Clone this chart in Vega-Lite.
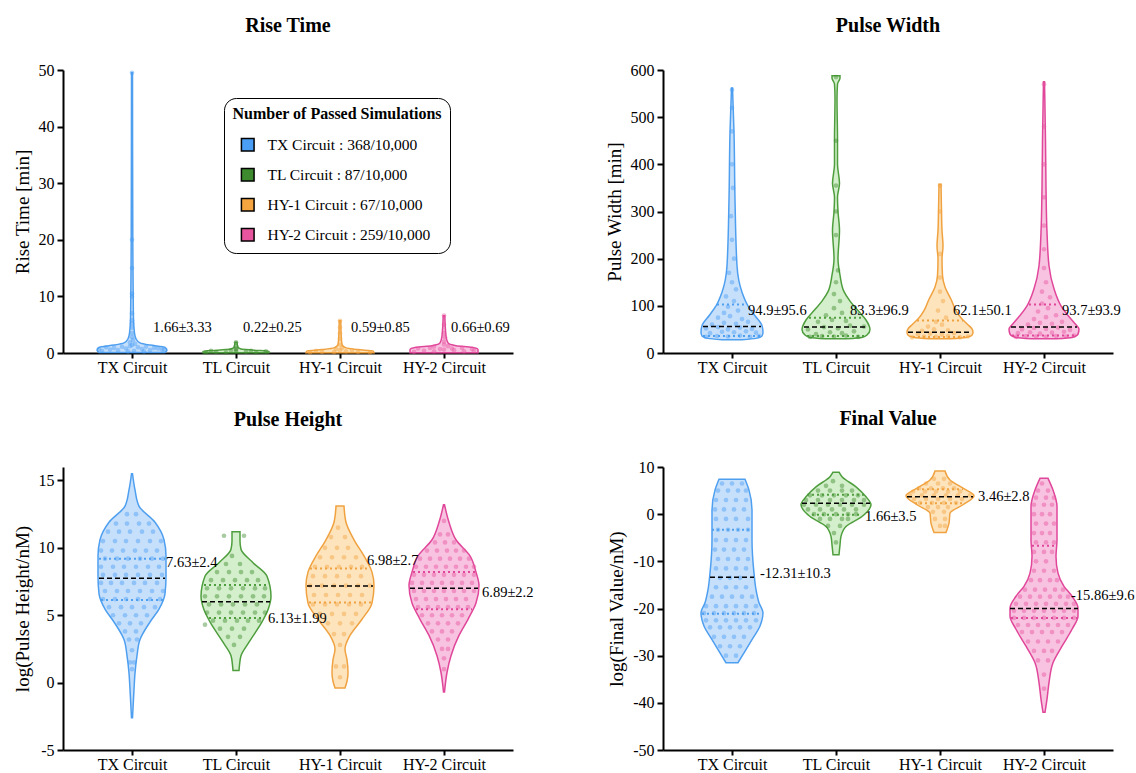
{
"$schema":"https://vega.github.io/schema/vega-lite/v6.json",
"background":"white",
"padding":{"left":13,"top":16,"right":5,"bottom":5},
"config":{"font":"Liberation Serif","view":{"stroke":null},
"axis":{"domainColor":"black","domainWidth":2,"tickColor":"black","tickWidth":2,"tickSize":6,"labelFont":"Liberation Serif","labelFontSize":16,"labelColor":"black","titleFont":"Liberation Serif","titleFontSize":19,"titleFontWeight":"normal","titleColor":"black","grid":false,"labelPadding":3,"titlePadding":6},
"axisX":{"labelPadding":1,"tickSize":5},
"title":{"font":"Liberation Serif","fontSize":20,"fontWeight":"bold","color":"black","offset":26,"anchor":"middle"}},
"datasets":{
"vio":[
{"p":"RT","g":"TX","y":0.1,"w":33},{"p":"RT","g":"TX","y":0.5,"w":35},{"p":"RT","g":"TX","y":1.0,"w":33},{"p":"RT","g":"TX","y":1.4,"w":18},{"p":"RT","g":"TX","y":1.8,"w":8},{"p":"RT","g":"TX","y":2.5,"w":4},{"p":"RT","g":"TX","y":3.5,"w":2.5},{"p":"RT","g":"TX","y":6,"w":1.5},{"p":"RT","g":"TX","y":10,"w":1.2},{"p":"RT","g":"TX","y":20,"w":0.8},{"p":"RT","g":"TX","y":49.5,"w":0.5},
{"p":"RT","g":"TL","y":0.05,"w":33},{"p":"RT","g":"TL","y":0.3,"w":33},{"p":"RT","g":"TL","y":0.5,"w":18},{"p":"RT","g":"TL","y":0.7,"w":5},{"p":"RT","g":"TL","y":1.0,"w":2},{"p":"RT","g":"TL","y":1.9,"w":1},
{"p":"RT","g":"H1","y":0.05,"w":34},{"p":"RT","g":"H1","y":0.35,"w":33},{"p":"RT","g":"H1","y":0.6,"w":18},{"p":"RT","g":"H1","y":0.9,"w":6},{"p":"RT","g":"H1","y":1.5,"w":2},{"p":"RT","g":"H1","y":3,"w":1.2},{"p":"RT","g":"H1","y":5.7,"w":0.8},
{"p":"RT","g":"H2","y":0.05,"w":34},{"p":"RT","g":"H2","y":0.6,"w":34},{"p":"RT","g":"H2","y":1.0,"w":28},{"p":"RT","g":"H2","y":1.3,"w":12},{"p":"RT","g":"H2","y":1.8,"w":4},{"p":"RT","g":"H2","y":3,"w":2},{"p":"RT","g":"H2","y":6.6,"w":0.8},
{"p":"PW","g":"TX","y":28,"w":10},{"p":"PW","g":"TX","y":31,"w":24},{"p":"PW","g":"TX","y":36,"w":30},{"p":"PW","g":"TX","y":44,"w":31},{"p":"PW","g":"TX","y":58,"w":30},{"p":"PW","g":"TX","y":79,"w":23},{"p":"PW","g":"TX","y":100,"w":16},{"p":"PW","g":"TX","y":129,"w":10},{"p":"PW","g":"TX","y":185,"w":5},{"p":"PW","g":"TX","y":326,"w":3},{"p":"PW","g":"TX","y":468,"w":2},{"p":"PW","g":"TX","y":562,"w":0.5},
{"p":"PW","g":"TL","y":30,"w":10},{"p":"PW","g":"TL","y":33,"w":26},{"p":"PW","g":"TL","y":38,"w":31},{"p":"PW","g":"TL","y":50,"w":34},{"p":"PW","g":"TL","y":70,"w":30},{"p":"PW","g":"TL","y":90,"w":22},{"p":"PW","g":"TL","y":110,"w":14},{"p":"PW","g":"TL","y":130,"w":8},{"p":"PW","g":"TL","y":165,"w":4},{"p":"PW","g":"TL","y":200,"w":2},{"p":"PW","g":"TL","y":260,"w":3.5},{"p":"PW","g":"TL","y":300,"w":2},{"p":"PW","g":"TL","y":330,"w":1.5},{"p":"PW","g":"TL","y":360,"w":3.5},{"p":"PW","g":"TL","y":400,"w":1.5},{"p":"PW","g":"TL","y":450,"w":1.5},{"p":"PW","g":"TL","y":540,"w":1},{"p":"PW","g":"TL","y":570,"w":1.5},{"p":"PW","g":"TL","y":583,"w":4},{"p":"PW","g":"TL","y":588,"w":4},
{"p":"PW","g":"H1","y":30,"w":10},{"p":"PW","g":"H1","y":33,"w":26},{"p":"PW","g":"H1","y":38,"w":32},{"p":"PW","g":"H1","y":44,"w":33},{"p":"PW","g":"H1","y":51,"w":32},{"p":"PW","g":"H1","y":60,"w":28},{"p":"PW","g":"H1","y":72,"w":22},{"p":"PW","g":"H1","y":90,"w":16},{"p":"PW","g":"H1","y":114,"w":11},{"p":"PW","g":"H1","y":140,"w":5},{"p":"PW","g":"H1","y":164,"w":2.5},{"p":"PW","g":"H1","y":200,"w":2},{"p":"PW","g":"H1","y":227,"w":3},{"p":"PW","g":"H1","y":260,"w":2},{"p":"PW","g":"H1","y":300,"w":1.5},{"p":"PW","g":"H1","y":358,"w":1},
{"p":"PW","g":"H2","y":30,"w":12},{"p":"PW","g":"H2","y":33,"w":28},{"p":"PW","g":"H2","y":40,"w":34},{"p":"PW","g":"H2","y":51,"w":35},{"p":"PW","g":"H2","y":60,"w":32},{"p":"PW","g":"H2","y":72,"w":27},{"p":"PW","g":"H2","y":100,"w":17},{"p":"PW","g":"H2","y":136,"w":10},{"p":"PW","g":"H2","y":185,"w":5},{"p":"PW","g":"H2","y":256,"w":3},{"p":"PW","g":"H2","y":350,"w":2},{"p":"PW","g":"H2","y":450,"w":1.5},{"p":"PW","g":"H2","y":575,"w":0.5},
{"p":"PH","g":"TX","y":-2.6,"w":0.5},{"p":"PH","g":"TX","y":-0.5,"w":2},{"p":"PH","g":"TX","y":0.7,"w":3},{"p":"PH","g":"TX","y":2.0,"w":5},{"p":"PH","g":"TX","y":3.2,"w":8},{"p":"PH","g":"TX","y":4.5,"w":18},{"p":"PH","g":"TX","y":5.45,"w":27},{"p":"PH","g":"TX","y":6.6,"w":33},{"p":"PH","g":"TX","y":7.9,"w":34},{"p":"PH","g":"TX","y":9.4,"w":34},{"p":"PH","g":"TX","y":10.6,"w":32},{"p":"PH","g":"TX","y":11.9,"w":23},{"p":"PH","g":"TX","y":13.1,"w":7},{"p":"PH","g":"TX","y":14.3,"w":3},{"p":"PH","g":"TX","y":15.5,"w":0.5},
{"p":"PH","g":"TL","y":0.9,"w":3},{"p":"PH","g":"TL","y":1.3,"w":3.5},{"p":"PH","g":"TL","y":2.0,"w":5},{"p":"PH","g":"TL","y":3.0,"w":13},{"p":"PH","g":"TL","y":4.5,"w":26},{"p":"PH","g":"TL","y":5.4,"w":32},{"p":"PH","g":"TL","y":6.4,"w":35},{"p":"PH","g":"TL","y":7.9,"w":31},{"p":"PH","g":"TL","y":8.9,"w":17},{"p":"PH","g":"TL","y":9.9,"w":5},{"p":"PH","g":"TL","y":10.5,"w":4},{"p":"PH","g":"TL","y":11.2,"w":4},
{"p":"PH","g":"H1","y":-0.4,"w":5},{"p":"PH","g":"H1","y":0.1,"w":7},{"p":"PH","g":"H1","y":0.75,"w":8},{"p":"PH","g":"H1","y":1.7,"w":7},{"p":"PH","g":"H1","y":2.5,"w":5},{"p":"PH","g":"H1","y":3.5,"w":10},{"p":"PH","g":"H1","y":4.7,"w":22},{"p":"PH","g":"H1","y":5.9,"w":32},{"p":"PH","g":"H1","y":7.2,"w":34},{"p":"PH","g":"H1","y":8.2,"w":32},{"p":"PH","g":"H1","y":9.4,"w":24},{"p":"PH","g":"H1","y":10.6,"w":14},{"p":"PH","g":"H1","y":11.9,"w":6},{"p":"PH","g":"H1","y":13.1,"w":4},
{"p":"PH","g":"H2","y":-0.7,"w":0.5},{"p":"PH","g":"H2","y":0.75,"w":3},{"p":"PH","g":"H2","y":2.0,"w":7},{"p":"PH","g":"H2","y":3.5,"w":15},{"p":"PH","g":"H2","y":4.7,"w":24},{"p":"PH","g":"H2","y":5.9,"w":32},{"p":"PH","g":"H2","y":7.2,"w":35},{"p":"PH","g":"H2","y":8.2,"w":32},{"p":"PH","g":"H2","y":9.4,"w":26},{"p":"PH","g":"H2","y":10.6,"w":12},{"p":"PH","g":"H2","y":11.9,"w":5},{"p":"PH","g":"H2","y":13.2,"w":0.5},
{"p":"FV","g":"TX","y":-31.5,"w":6},{"p":"FV","g":"TX","y":-29.4,"w":12},{"p":"FV","g":"TX","y":-26.6,"w":20},{"p":"FV","g":"TX","y":-23.7,"w":28},{"p":"FV","g":"TX","y":-20.9,"w":31},{"p":"FV","g":"TX","y":-18.8,"w":27},{"p":"FV","g":"TX","y":-16,"w":24},{"p":"FV","g":"TX","y":-12.5,"w":22},{"p":"FV","g":"TX","y":-5.4,"w":20},{"p":"FV","g":"TX","y":0.9,"w":20},{"p":"FV","g":"TX","y":5.1,"w":17},{"p":"FV","g":"TX","y":7.4,"w":13},
{"p":"FV","g":"TL","y":-8.6,"w":3},{"p":"FV","g":"TL","y":-6.5,"w":4},{"p":"FV","g":"TL","y":-4.7,"w":5},{"p":"FV","g":"TL","y":-2.6,"w":10},{"p":"FV","g":"TL","y":-0.5,"w":26},{"p":"FV","g":"TL","y":2.0,"w":35},{"p":"FV","g":"TL","y":3.7,"w":30},{"p":"FV","g":"TL","y":5.8,"w":20},{"p":"FV","g":"TL","y":7.95,"w":6},{"p":"FV","g":"TL","y":8.9,"w":3},
{"p":"FV","g":"H1","y":-3.9,"w":6},{"p":"FV","g":"H1","y":-1.9,"w":9},{"p":"FV","g":"H1","y":0.2,"w":10},{"p":"FV","g":"H1","y":2.0,"w":23},{"p":"FV","g":"H1","y":3.9,"w":34},{"p":"FV","g":"H1","y":5.5,"w":23},{"p":"FV","g":"H1","y":7.25,"w":10},{"p":"FV","g":"H1","y":9.15,"w":5},
{"p":"FV","g":"H2","y":-42,"w":1},{"p":"FV","g":"H2","y":-39.2,"w":3},{"p":"FV","g":"H2","y":-35.7,"w":5},{"p":"FV","g":"H2","y":-31.5,"w":9},{"p":"FV","g":"H2","y":-28,"w":18},{"p":"FV","g":"H2","y":-24.4,"w":28},{"p":"FV","g":"H2","y":-21.6,"w":34},{"p":"FV","g":"H2","y":-19.9,"w":34},{"p":"FV","g":"H2","y":-17.4,"w":28},{"p":"FV","g":"H2","y":-15.3,"w":20},{"p":"FV","g":"H2","y":-12.5,"w":14},{"p":"FV","g":"H2","y":-8.95,"w":12},{"p":"FV","g":"H2","y":-5.4,"w":13},{"p":"FV","g":"H2","y":-1.9,"w":13},{"p":"FV","g":"H2","y":1.6,"w":13},{"p":"FV","g":"H2","y":5.1,"w":9},{"p":"FV","g":"H2","y":7.6,"w":4}
],
"qs":[
{"p":"PW","g":"TX","y":56,"w":29,"k":"m"},{"p":"PW","g":"TX","y":103,"w":15,"k":"q"},{"p":"PW","g":"TX","y":36,"w":29,"k":"q"},
{"p":"PW","g":"TL","y":55,"w":32,"k":"m"},{"p":"PW","g":"TL","y":75,"w":27,"k":"q"},{"p":"PW","g":"TL","y":36,"w":29,"k":"q"},
{"p":"PW","g":"H1","y":44,"w":32,"k":"m"},{"p":"PW","g":"H1","y":69,"w":23,"k":"q"},{"p":"PW","g":"H1","y":34,"w":27,"k":"q"},
{"p":"PW","g":"H2","y":55,"w":33,"k":"m"},{"p":"PW","g":"H2","y":103,"w":15,"k":"q"},{"p":"PW","g":"H2","y":37,"w":32,"k":"q"},
{"p":"PH","g":"TX","y":7.74,"w":33,"k":"m"},{"p":"PH","g":"TX","y":9.2,"w":33,"k":"q"},{"p":"PH","g":"TX","y":6.13,"w":31,"k":"q"},
{"p":"PH","g":"TL","y":6.0,"w":34,"k":"m"},{"p":"PH","g":"TL","y":7.25,"w":32,"k":"q"},{"p":"PH","g":"TL","y":4.8,"w":27,"k":"q"},
{"p":"PH","g":"H1","y":7.17,"w":33,"k":"m"},{"p":"PH","g":"H1","y":8.46,"w":30,"k":"q"},{"p":"PH","g":"H1","y":5.94,"w":31,"k":"q"},
{"p":"PH","g":"H2","y":7.0,"w":34,"k":"m"},{"p":"PH","g":"H2","y":8.2,"w":31,"k":"q"},{"p":"PH","g":"H2","y":5.44,"w":28,"k":"q"},
{"p":"FV","g":"TX","y":-13.4,"w":22,"k":"m"},{"p":"FV","g":"TX","y":-3.3,"w":20,"k":"q"},{"p":"FV","g":"TX","y":-21.1,"w":30,"k":"q"},
{"p":"FV","g":"TL","y":2.3,"w":34,"k":"m"},{"p":"FV","g":"TL","y":4.1,"w":29,"k":"q"},{"p":"FV","g":"TL","y":-0.1,"w":24,"k":"q"},
{"p":"FV","g":"H1","y":3.7,"w":33,"k":"m"},{"p":"FV","g":"H1","y":5.3,"w":23,"k":"q"},{"p":"FV","g":"H1","y":2.3,"w":25,"k":"q"},
{"p":"FV","g":"H2","y":-20,"w":34,"k":"m"},{"p":"FV","g":"H2","y":-6.7,"w":12,"k":"q"},{"p":"FV","g":"H2","y":-22,"w":33,"k":"q"}
],
"ann":[
{"p":"RT","a":90,"y":4.4,"t":"1.66±3.33"},{"p":"RT","a":180,"y":4.4,"t":"0.22±0.25"},{"p":"RT","a":288,"y":4.4,"t":"0.59±0.85"},{"p":"RT","a":388,"y":4.4,"t":"0.66±0.69"},
{"p":"PW","a":85,"y":89,"t":"94.9±95.6"},{"p":"PW","a":187,"y":89,"t":"83.3±96.9"},{"p":"PW","a":290,"y":89,"t":"62.1±50.1"},{"p":"PW","a":399,"y":89,"t":"93.7±93.9"},
{"p":"PH","a":103,"y":8.9,"t":"7.63±2.4"},{"p":"PH","a":205,"y":4.7,"t":"6.13±1.99"},{"p":"PH","a":304,"y":9.0,"t":"6.98±2.7"},{"p":"PH","a":419,"y":6.68,"t":"6.89±2.2"},
{"p":"FV","a":97,"y":-12.7,"t":"-12.31±10.3"},{"p":"FV","a":202,"y":-0.7,"t":"1.66±3.5"},{"p":"FV","a":315,"y":3.7,"t":"3.46±2.8"},{"p":"FV","a":408,"y":-17.4,"t":"-15.86±9.6"}
],
"pRT":[
{"g":"TX","y":0.4,"d":-30},{"g":"TX","y":0.6,"d":-22},{"g":"TX","y":0.5,"d":-14},{"g":"TX","y":0.8,"d":-6},{"g":"TX","y":0.4,"d":2},{"g":"TX","y":0.7,"d":10},{"g":"TX","y":0.5,"d":18},{"g":"TX","y":0.8,"d":26},{"g":"TX","y":0.6,"d":32},{"g":"TX","y":1.0,"d":-26},{"g":"TX","y":0.9,"d":-18},{"g":"TX","y":1.1,"d":-10},{"g":"TX","y":1.2,"d":-2},{"g":"TX","y":1.0,"d":6},{"g":"TX","y":1.1,"d":14},{"g":"TX","y":0.9,"d":22},{"g":"TX","y":0.3,"d":-4},{"g":"TX","y":0.3,"d":12},{"g":"TX","y":0.7,"d":-33},{"g":"TX","y":0.6,"d":30},{"g":"TX","y":1.4,"d":0},{"g":"TX","y":1.6,"d":3},{"g":"TX","y":1.9,"d":-2},{"g":"TX","y":2.3,"d":1},{"g":"TX","y":2.8,"d":0},{"g":"TX","y":3.5,"d":0},{"g":"TX","y":4.5,"d":0},{"g":"TX","y":5.2,"d":0},{"g":"TX","y":5.8,"d":0},{"g":"TX","y":7,"d":0},{"g":"TX","y":10,"d":0},{"g":"TX","y":10.5,"d":0},{"g":"TX","y":15,"d":0},{"g":"TX","y":20,"d":0},{"g":"TX","y":49.5,"d":0},
{"g":"TL","y":0.1,"d":-30},{"g":"TL","y":0.2,"d":-20},{"g":"TL","y":0.1,"d":-10},{"g":"TL","y":0.3,"d":0},{"g":"TL","y":0.2,"d":10},{"g":"TL","y":0.1,"d":20},{"g":"TL","y":0.3,"d":30},{"g":"TL","y":0.4,"d":-25},{"g":"TL","y":0.4,"d":15},{"g":"TL","y":0.5,"d":-5},{"g":"TL","y":0.6,"d":0},{"g":"TL","y":0.8,"d":0},{"g":"TL","y":1.2,"d":0},{"g":"TL","y":1.9,"d":0},
{"g":"H1","y":0.1,"d":-30},{"g":"H1","y":0.2,"d":-18},{"g":"H1","y":0.15,"d":-6},{"g":"H1","y":0.3,"d":6},{"g":"H1","y":0.2,"d":18},{"g":"H1","y":0.1,"d":30},{"g":"H1","y":0.4,"d":-24},{"g":"H1","y":0.45,"d":12},{"g":"H1","y":0.5,"d":0},{"g":"H1","y":0.7,"d":-4},{"g":"H1","y":0.9,"d":2},{"g":"H1","y":1.5,"d":0},{"g":"H1","y":2.5,"d":0},{"g":"H1","y":3.5,"d":0},{"g":"H1","y":4.5,"d":0},{"g":"H1","y":5.7,"d":0},
{"g":"H2","y":0.2,"d":-30},{"g":"H2","y":0.4,"d":-20},{"g":"H2","y":0.3,"d":-10},{"g":"H2","y":0.6,"d":0},{"g":"H2","y":0.5,"d":10},{"g":"H2","y":0.3,"d":20},{"g":"H2","y":0.4,"d":30},{"g":"H2","y":0.8,"d":-26},{"g":"H2","y":0.9,"d":-14},{"g":"H2","y":0.7,"d":-4},{"g":"H2","y":0.8,"d":8},{"g":"H2","y":0.9,"d":18},{"g":"H2","y":0.7,"d":28},{"g":"H2","y":1.1,"d":-10},{"g":"H2","y":1.2,"d":4},{"g":"H2","y":1.5,"d":0},{"g":"H2","y":2,"d":0},{"g":"H2","y":2.8,"d":1},{"g":"H2","y":3.5,"d":0},{"g":"H2","y":5,"d":0},{"g":"H2","y":6.6,"d":0}
],
"pPW":[
{"g":"TX","y":34,"d":-26},{"g":"TX","y":36,"d":-15},{"g":"TX","y":35,"d":-4},{"g":"TX","y":37,"d":8},{"g":"TX","y":34,"d":18},{"g":"TX","y":36,"d":27},{"g":"TX","y":42,"d":-22},{"g":"TX","y":45,"d":-10},{"g":"TX","y":44,"d":2},{"g":"TX","y":46,"d":14},{"g":"TX","y":43,"d":24},{"g":"TX","y":52,"d":-26},{"g":"TX","y":55,"d":-14},{"g":"TX","y":50,"d":-4},{"g":"TX","y":54,"d":8},{"g":"TX","y":51,"d":20},{"g":"TX","y":60,"d":-20},{"g":"TX","y":64,"d":-8},{"g":"TX","y":62,"d":4},{"g":"TX","y":66,"d":16},{"g":"TX","y":75,"d":-14},{"g":"TX","y":78,"d":-2},{"g":"TX","y":72,"d":10},{"g":"TX","y":85,"d":-8},{"g":"TX","y":90,"d":6},{"g":"TX","y":98,"d":-4},{"g":"TX","y":110,"d":2},{"g":"TX","y":120,"d":-6},{"g":"TX","y":135,"d":4},{"g":"TX","y":150,"d":0},{"g":"TX","y":170,"d":-3},{"g":"TX","y":200,"d":2},{"g":"TX","y":240,"d":0},{"g":"TX","y":290,"d":-1},{"g":"TX","y":350,"d":1},{"g":"TX","y":400,"d":0},{"g":"TX","y":470,"d":0},{"g":"TX","y":520,"d":0},{"g":"TX","y":558,"d":0},
{"g":"TL","y":34,"d":-26},{"g":"TL","y":36,"d":-14},{"g":"TL","y":35,"d":-2},{"g":"TL","y":37,"d":10},{"g":"TL","y":34,"d":22},{"g":"TL","y":40,"d":-20},{"g":"TL","y":44,"d":-6},{"g":"TL","y":42,"d":6},{"g":"TL","y":46,"d":18},{"g":"TL","y":50,"d":-28},{"g":"TL","y":55,"d":-12},{"g":"TL","y":52,"d":2},{"g":"TL","y":58,"d":14},{"g":"TL","y":56,"d":28},{"g":"TL","y":66,"d":-18},{"g":"TL","y":70,"d":-4},{"g":"TL","y":68,"d":10},{"g":"TL","y":80,"d":-10},{"g":"TL","y":85,"d":6},{"g":"TL","y":95,"d":-2},{"g":"TL","y":110,"d":4},{"g":"TL","y":125,"d":-2},{"g":"TL","y":150,"d":0},{"g":"TL","y":175,"d":2},{"g":"TL","y":250,"d":0},{"g":"TL","y":300,"d":0},{"g":"TL","y":355,"d":0},{"g":"TL","y":450,"d":0},{"g":"TL","y":585,"d":0},
{"g":"H1","y":33,"d":-28},{"g":"H1","y":35,"d":-16},{"g":"H1","y":34,"d":-4},{"g":"H1","y":36,"d":8},{"g":"H1","y":33,"d":20},{"g":"H1","y":35,"d":28},{"g":"H1","y":40,"d":-22},{"g":"H1","y":41,"d":-10},{"g":"H1","y":39,"d":2},{"g":"H1","y":42,"d":14},{"g":"H1","y":47,"d":-18},{"g":"H1","y":50,"d":-6},{"g":"H1","y":48,"d":8},{"g":"H1","y":56,"d":-12},{"g":"H1","y":60,"d":2},{"g":"H1","y":66,"d":-4},{"g":"H1","y":75,"d":6},{"g":"H1","y":90,"d":-2},{"g":"H1","y":110,"d":3},{"g":"H1","y":130,"d":0},{"g":"H1","y":160,"d":0},{"g":"H1","y":210,"d":0},{"g":"H1","y":300,"d":0},{"g":"H1","y":355,"d":0},
{"g":"H2","y":34,"d":-28},{"g":"H2","y":36,"d":-18},{"g":"H2","y":35,"d":-8},{"g":"H2","y":34,"d":2},{"g":"H2","y":36,"d":12},{"g":"H2","y":35,"d":22},{"g":"H2","y":37,"d":30},{"g":"H2","y":42,"d":-26},{"g":"H2","y":44,"d":-14},{"g":"H2","y":41,"d":-4},{"g":"H2","y":43,"d":8},{"g":"H2","y":45,"d":20},{"g":"H2","y":50,"d":-22},{"g":"H2","y":53,"d":-10},{"g":"H2","y":51,"d":2},{"g":"H2","y":54,"d":14},{"g":"H2","y":49,"d":26},{"g":"H2","y":60,"d":-16},{"g":"H2","y":64,"d":-4},{"g":"H2","y":62,"d":8},{"g":"H2","y":66,"d":18},{"g":"H2","y":72,"d":-10},{"g":"H2","y":76,"d":2},{"g":"H2","y":80,"d":12},{"g":"H2","y":88,"d":-6},{"g":"H2","y":95,"d":4},{"g":"H2","y":105,"d":-2},{"g":"H2","y":118,"d":6},{"g":"H2","y":130,"d":-2},{"g":"H2","y":150,"d":2},{"g":"H2","y":180,"d":0},{"g":"H2","y":220,"d":0},{"g":"H2","y":270,"d":0},{"g":"H2","y":330,"d":0},{"g":"H2","y":400,"d":0},{"g":"H2","y":480,"d":0},{"g":"H2","y":570,"d":0}
],
"pPH":[
{"g":"TX","y":12.5,"d":-5},{"g":"TX","y":12.5,"d":4},
{"g":"TX","y":11.8,"d":-16},{"g":"TX","y":11.8,"d":-5},{"g":"TX","y":11.8,"d":7},{"g":"TX","y":11.8,"d":17},
{"g":"TX","y":11.2,"d":-24},{"g":"TX","y":11.2,"d":-13},{"g":"TX","y":11.2,"d":-2},{"g":"TX","y":11.2,"d":10},{"g":"TX","y":11.2,"d":21},
{"g":"TX","y":10.5,"d":-29},{"g":"TX","y":10.5,"d":-17},{"g":"TX","y":10.5,"d":-6},{"g":"TX","y":10.5,"d":6},{"g":"TX","y":10.5,"d":18},{"g":"TX","y":10.5,"d":29},
{"g":"TX","y":9.8,"d":-31},{"g":"TX","y":9.8,"d":-20},{"g":"TX","y":9.8,"d":-9},{"g":"TX","y":9.8,"d":3},{"g":"TX","y":9.8,"d":14},{"g":"TX","y":9.8,"d":25},
{"g":"TX","y":9.2,"d":-27},{"g":"TX","y":9.2,"d":-15},{"g":"TX","y":9.2,"d":-4},{"g":"TX","y":9.2,"d":8},{"g":"TX","y":9.2,"d":20},{"g":"TX","y":9.2,"d":31},
{"g":"TX","y":8.6,"d":-31},{"g":"TX","y":8.6,"d":-19},{"g":"TX","y":8.6,"d":-8},{"g":"TX","y":8.6,"d":4},{"g":"TX","y":8.6,"d":16},{"g":"TX","y":8.6,"d":27},
{"g":"TX","y":8.0,"d":-29},{"g":"TX","y":8.0,"d":-17},{"g":"TX","y":8.0,"d":-6},{"g":"TX","y":8.0,"d":6},{"g":"TX","y":8.0,"d":18},{"g":"TX","y":8.0,"d":30},
{"g":"TX","y":7.4,"d":-31},{"g":"TX","y":7.4,"d":-21},{"g":"TX","y":7.4,"d":-10},{"g":"TX","y":7.4,"d":2},{"g":"TX","y":7.4,"d":13},{"g":"TX","y":7.4,"d":25},
{"g":"TX","y":6.8,"d":-27},{"g":"TX","y":6.8,"d":-15},{"g":"TX","y":6.8,"d":-4},{"g":"TX","y":6.8,"d":8},{"g":"TX","y":6.8,"d":20},{"g":"TX","y":6.8,"d":31},
{"g":"TX","y":6.2,"d":-29},{"g":"TX","y":6.2,"d":-17},{"g":"TX","y":6.2,"d":-6},{"g":"TX","y":6.2,"d":6},{"g":"TX","y":6.2,"d":18},{"g":"TX","y":6.2,"d":28},
{"g":"TX","y":5.6,"d":-23},{"g":"TX","y":5.6,"d":-11},{"g":"TX","y":5.6,"d":0},{"g":"TX","y":5.6,"d":12},{"g":"TX","y":5.6,"d":23},
{"g":"TX","y":5.0,"d":-19},{"g":"TX","y":5.0,"d":-7},{"g":"TX","y":5.0,"d":4},{"g":"TX","y":5.0,"d":15},
{"g":"TX","y":4.4,"d":-13},{"g":"TX","y":4.4,"d":-2},{"g":"TX","y":4.4,"d":9},
{"g":"TX","y":3.8,"d":-7},{"g":"TX","y":3.8,"d":4},{"g":"TX","y":3.2,"d":-3},{"g":"TX","y":3.2,"d":5},{"g":"TX","y":2.4,"d":0},{"g":"TX","y":1.5,"d":-2},{"g":"TX","y":1.5,"d":2},{"g":"TX","y":1.0,"d":0},
{"g":"TL","y":10.9,"d":-12},{"g":"TL","y":10.9,"d":8},{"g":"TL","y":9.4,"d":-4},{"g":"TL","y":8.8,"d":-10},{"g":"TL","y":8.8,"d":4},
{"g":"TL","y":8.2,"d":-19},{"g":"TL","y":8.2,"d":-7},{"g":"TL","y":8.2,"d":5},{"g":"TL","y":8.2,"d":16},
{"g":"TL","y":7.6,"d":-25},{"g":"TL","y":7.6,"d":-13},{"g":"TL","y":7.6,"d":-1},{"g":"TL","y":7.6,"d":11},{"g":"TL","y":7.6,"d":22},
{"g":"TL","y":7.0,"d":-29},{"g":"TL","y":7.0,"d":-17},{"g":"TL","y":7.0,"d":-5},{"g":"TL","y":7.0,"d":7},{"g":"TL","y":7.0,"d":19},{"g":"TL","y":7.0,"d":29},
{"g":"TL","y":6.4,"d":-31},{"g":"TL","y":6.4,"d":-19},{"g":"TL","y":6.4,"d":-7},{"g":"TL","y":6.4,"d":5},{"g":"TL","y":6.4,"d":17},{"g":"TL","y":6.4,"d":28},
{"g":"TL","y":5.8,"d":-27},{"g":"TL","y":5.8,"d":-15},{"g":"TL","y":5.8,"d":-3},{"g":"TL","y":5.8,"d":9},{"g":"TL","y":5.8,"d":21},
{"g":"TL","y":5.2,"d":-29},{"g":"TL","y":5.2,"d":-17},{"g":"TL","y":5.2,"d":-5},{"g":"TL","y":5.2,"d":7},{"g":"TL","y":5.2,"d":19},{"g":"TL","y":5.2,"d":29},
{"g":"TL","y":4.6,"d":-23},{"g":"TL","y":4.6,"d":-11},{"g":"TL","y":4.6,"d":1},{"g":"TL","y":4.6,"d":12},{"g":"TL","y":4.6,"d":23},
{"g":"TL","y":4.0,"d":-16},{"g":"TL","y":4.0,"d":-4},{"g":"TL","y":4.0,"d":8},{"g":"TL","y":3.4,"d":-8},{"g":"TL","y":3.4,"d":4},{"g":"TL","y":2.8,"d":-2},{"g":"TL","y":4.3,"d":-31},
{"g":"H1","y":11.5,"d":-2},{"g":"H1","y":10.8,"d":-9},{"g":"H1","y":10.8,"d":5},
{"g":"H1","y":10.0,"d":-15},{"g":"H1","y":10.0,"d":-3},{"g":"H1","y":10.0,"d":8},
{"g":"H1","y":9.3,"d":-20},{"g":"H1","y":9.3,"d":-8},{"g":"H1","y":9.3,"d":4},{"g":"H1","y":9.3,"d":16},
{"g":"H1","y":8.6,"d":-25},{"g":"H1","y":8.6,"d":-13},{"g":"H1","y":8.6,"d":-1},{"g":"H1","y":8.6,"d":11},{"g":"H1","y":8.6,"d":22},
{"g":"H1","y":7.9,"d":-27},{"g":"H1","y":7.9,"d":-15},{"g":"H1","y":7.9,"d":-3},{"g":"H1","y":7.9,"d":9},{"g":"H1","y":7.9,"d":21},
{"g":"H1","y":7.2,"d":-30},{"g":"H1","y":7.2,"d":-18},{"g":"H1","y":7.2,"d":-6},{"g":"H1","y":7.2,"d":6},{"g":"H1","y":7.2,"d":18},{"g":"H1","y":7.2,"d":30},
{"g":"H1","y":6.5,"d":-26},{"g":"H1","y":6.5,"d":-14},{"g":"H1","y":6.5,"d":-2},{"g":"H1","y":6.5,"d":10},{"g":"H1","y":6.5,"d":22},
{"g":"H1","y":5.8,"d":-27},{"g":"H1","y":5.8,"d":-15},{"g":"H1","y":5.8,"d":-3},{"g":"H1","y":5.8,"d":9},{"g":"H1","y":5.8,"d":21},
{"g":"H1","y":5.1,"d":-20},{"g":"H1","y":5.1,"d":-8},{"g":"H1","y":5.1,"d":4},{"g":"H1","y":5.1,"d":16},
{"g":"H1","y":4.4,"d":-12},{"g":"H1","y":4.4,"d":0},{"g":"H1","y":4.4,"d":12},
{"g":"H1","y":3.6,"d":-6},{"g":"H1","y":3.6,"d":4},{"g":"H1","y":2.8,"d":0},{"g":"H1","y":1.2,"d":-4},{"g":"H1","y":1.2,"d":4},{"g":"H1","y":0.4,"d":0},
{"g":"H2","y":12,"d":0},{"g":"H2","y":11,"d":-4},{"g":"H2","y":11,"d":4},
{"g":"H2","y":10.4,"d":-9},{"g":"H2","y":10.4,"d":1},{"g":"H2","y":10.4,"d":10},
{"g":"H2","y":9.8,"d":-17},{"g":"H2","y":9.8,"d":-7},{"g":"H2","y":9.8,"d":3},{"g":"H2","y":9.8,"d":12},{"g":"H2","y":9.8,"d":20},
{"g":"H2","y":9.2,"d":-24},{"g":"H2","y":9.2,"d":-14},{"g":"H2","y":9.2,"d":-4},{"g":"H2","y":9.2,"d":6},{"g":"H2","y":9.2,"d":16},{"g":"H2","y":9.2,"d":25},
{"g":"H2","y":8.6,"d":-28},{"g":"H2","y":8.6,"d":-18},{"g":"H2","y":8.6,"d":-8},{"g":"H2","y":8.6,"d":2},{"g":"H2","y":8.6,"d":12},{"g":"H2","y":8.6,"d":22},{"g":"H2","y":8.6,"d":30},
{"g":"H2","y":8.0,"d":-30},{"g":"H2","y":8.0,"d":-20},{"g":"H2","y":8.0,"d":-10},{"g":"H2","y":8.0,"d":0},{"g":"H2","y":8.0,"d":10},{"g":"H2","y":8.0,"d":20},{"g":"H2","y":8.0,"d":30},
{"g":"H2","y":7.4,"d":-32},{"g":"H2","y":7.4,"d":-22},{"g":"H2","y":7.4,"d":-12},{"g":"H2","y":7.4,"d":-2},{"g":"H2","y":7.4,"d":8},{"g":"H2","y":7.4,"d":18},{"g":"H2","y":7.4,"d":28},
{"g":"H2","y":6.8,"d":-30},{"g":"H2","y":6.8,"d":-20},{"g":"H2","y":6.8,"d":-10},{"g":"H2","y":6.8,"d":0},{"g":"H2","y":6.8,"d":10},{"g":"H2","y":6.8,"d":20},{"g":"H2","y":6.8,"d":30},
{"g":"H2","y":6.2,"d":-28},{"g":"H2","y":6.2,"d":-18},{"g":"H2","y":6.2,"d":-8},{"g":"H2","y":6.2,"d":2},{"g":"H2","y":6.2,"d":12},{"g":"H2","y":6.2,"d":22},
{"g":"H2","y":5.6,"d":-26},{"g":"H2","y":5.6,"d":-16},{"g":"H2","y":5.6,"d":-6},{"g":"H2","y":5.6,"d":4},{"g":"H2","y":5.6,"d":14},{"g":"H2","y":5.6,"d":24},
{"g":"H2","y":5.0,"d":-22},{"g":"H2","y":5.0,"d":-12},{"g":"H2","y":5.0,"d":-2},{"g":"H2","y":5.0,"d":8},{"g":"H2","y":5.0,"d":18},
{"g":"H2","y":4.4,"d":-16},{"g":"H2","y":4.4,"d":-6},{"g":"H2","y":4.4,"d":4},{"g":"H2","y":4.4,"d":14},
{"g":"H2","y":3.8,"d":-12},{"g":"H2","y":3.8,"d":-2},{"g":"H2","y":3.8,"d":8},{"g":"H2","y":3.2,"d":-6},{"g":"H2","y":3.2,"d":4},{"g":"H2","y":2.5,"d":-2},{"g":"H2","y":2.5,"d":4},{"g":"H2","y":1.8,"d":0},{"g":"H2","y":1.0,"d":0}
],
"pFV":[
{"g":"TX","y":6.5,"d":-10},{"g":"TX","y":6.5,"d":0},{"g":"TX","y":6.5,"d":10},
{"g":"TX","y":5,"d":-14},{"g":"TX","y":5,"d":-4},{"g":"TX","y":5,"d":6},{"g":"TX","y":5,"d":14},
{"g":"TX","y":3,"d":-16},{"g":"TX","y":3,"d":-6},{"g":"TX","y":3,"d":4},{"g":"TX","y":3,"d":14},
{"g":"TX","y":1,"d":-17},{"g":"TX","y":1,"d":-8},{"g":"TX","y":1,"d":2},{"g":"TX","y":1,"d":12},
{"g":"TX","y":-1,"d":-16},{"g":"TX","y":-1,"d":-6},{"g":"TX","y":-1,"d":4},{"g":"TX","y":-1,"d":16},
{"g":"TX","y":-3.3,"d":-14},{"g":"TX","y":-3.3,"d":-4},{"g":"TX","y":-3.3,"d":6},{"g":"TX","y":-3.3,"d":16},
{"g":"TX","y":-5.5,"d":-16},{"g":"TX","y":-5.5,"d":-6},{"g":"TX","y":-5.5,"d":4},{"g":"TX","y":-5.5,"d":14},
{"g":"TX","y":-7.5,"d":-17},{"g":"TX","y":-7.5,"d":-8},{"g":"TX","y":-7.5,"d":2},{"g":"TX","y":-7.5,"d":12},
{"g":"TX","y":-9.5,"d":-14},{"g":"TX","y":-9.5,"d":-4},{"g":"TX","y":-9.5,"d":6},{"g":"TX","y":-9.5,"d":16},
{"g":"TX","y":-11.5,"d":-16},{"g":"TX","y":-11.5,"d":-6},{"g":"TX","y":-11.5,"d":4},{"g":"TX","y":-11.5,"d":14},
{"g":"TX","y":-13.5,"d":-12},{"g":"TX","y":-13.5,"d":-2},{"g":"TX","y":-13.5,"d":8},
{"g":"TX","y":-15.5,"d":-16},{"g":"TX","y":-15.5,"d":-6},{"g":"TX","y":-15.5,"d":4},{"g":"TX","y":-15.5,"d":14},
{"g":"TX","y":-17.5,"d":-20},{"g":"TX","y":-17.5,"d":-10},{"g":"TX","y":-17.5,"d":0},{"g":"TX","y":-17.5,"d":10},{"g":"TX","y":-17.5,"d":20},
{"g":"TX","y":-19.5,"d":-26},{"g":"TX","y":-19.5,"d":-16},{"g":"TX","y":-19.5,"d":-6},{"g":"TX","y":-19.5,"d":4},{"g":"TX","y":-19.5,"d":14},{"g":"TX","y":-19.5,"d":24},
{"g":"TX","y":-21,"d":-28},{"g":"TX","y":-21,"d":-18},{"g":"TX","y":-21,"d":-8},{"g":"TX","y":-21,"d":2},{"g":"TX","y":-21,"d":12},{"g":"TX","y":-21,"d":22},
{"g":"TX","y":-22.5,"d":-26},{"g":"TX","y":-22.5,"d":-16},{"g":"TX","y":-22.5,"d":-6},{"g":"TX","y":-22.5,"d":4},{"g":"TX","y":-22.5,"d":14},{"g":"TX","y":-22.5,"d":24},
{"g":"TX","y":-24,"d":-22},{"g":"TX","y":-24,"d":-12},{"g":"TX","y":-24,"d":-2},{"g":"TX","y":-24,"d":8},{"g":"TX","y":-24,"d":18},
{"g":"TX","y":-26,"d":-18},{"g":"TX","y":-26,"d":-8},{"g":"TX","y":-26,"d":2},{"g":"TX","y":-26,"d":12},
{"g":"TX","y":-28,"d":-12},{"g":"TX","y":-28,"d":-2},{"g":"TX","y":-28,"d":8},{"g":"TX","y":-30,"d":-6},{"g":"TX","y":-30,"d":4},
{"g":"TL","y":7,"d":-3},{"g":"TL","y":6,"d":-10},{"g":"TL","y":6,"d":6},
{"g":"TL","y":5,"d":-18},{"g":"TL","y":5,"d":-6},{"g":"TL","y":5,"d":6},{"g":"TL","y":5,"d":16},
{"g":"TL","y":4,"d":-26},{"g":"TL","y":4,"d":-14},{"g":"TL","y":4,"d":-2},{"g":"TL","y":4,"d":10},{"g":"TL","y":4,"d":22},
{"g":"TL","y":3,"d":-30},{"g":"TL","y":3,"d":-18},{"g":"TL","y":3,"d":-6},{"g":"TL","y":3,"d":6},{"g":"TL","y":3,"d":18},{"g":"TL","y":3,"d":28},
{"g":"TL","y":2,"d":-32},{"g":"TL","y":2,"d":-20},{"g":"TL","y":2,"d":-8},{"g":"TL","y":2,"d":4},{"g":"TL","y":2,"d":16},{"g":"TL","y":2,"d":28},
{"g":"TL","y":1,"d":-28},{"g":"TL","y":1,"d":-16},{"g":"TL","y":1,"d":-4},{"g":"TL","y":1,"d":8},{"g":"TL","y":1,"d":20},
{"g":"TL","y":0,"d":-22},{"g":"TL","y":0,"d":-12},{"g":"TL","y":0,"d":0},{"g":"TL","y":0,"d":12},{"g":"TL","y":0,"d":20},
{"g":"TL","y":-1,"d":-16},{"g":"TL","y":-1,"d":-6},{"g":"TL","y":-1,"d":6},{"g":"TL","y":-1,"d":12},
{"g":"TL","y":-2.5,"d":-8},{"g":"TL","y":-2.5,"d":4},{"g":"TL","y":-4,"d":-2},{"g":"TL","y":-6,"d":0},
{"g":"H1","y":7.5,"d":-6},{"g":"H1","y":7.5,"d":4},
{"g":"H1","y":6.5,"d":-14},{"g":"H1","y":6.5,"d":-2},{"g":"H1","y":6.5,"d":10},
{"g":"H1","y":5.5,"d":-21},{"g":"H1","y":5.5,"d":-9},{"g":"H1","y":5.5,"d":3},{"g":"H1","y":5.5,"d":14},
{"g":"H1","y":4.8,"d":-27},{"g":"H1","y":4.8,"d":-15},{"g":"H1","y":4.8,"d":-4},{"g":"H1","y":4.8,"d":8},{"g":"H1","y":4.8,"d":20},
{"g":"H1","y":4,"d":-30},{"g":"H1","y":4,"d":-18},{"g":"H1","y":4,"d":-6},{"g":"H1","y":4,"d":6},{"g":"H1","y":4,"d":18},{"g":"H1","y":4,"d":30},
{"g":"H1","y":3.2,"d":-26},{"g":"H1","y":3.2,"d":-14},{"g":"H1","y":3.2,"d":-2},{"g":"H1","y":3.2,"d":10},{"g":"H1","y":3.2,"d":22},
{"g":"H1","y":2.4,"d":-20},{"g":"H1","y":2.4,"d":-8},{"g":"H1","y":2.4,"d":4},{"g":"H1","y":2.4,"d":16},
{"g":"H1","y":1.5,"d":-12},{"g":"H1","y":1.5,"d":-2},{"g":"H1","y":1.5,"d":8},
{"g":"H1","y":0.5,"d":-7},{"g":"H1","y":0.5,"d":4},{"g":"H1","y":-1,"d":-5},{"g":"H1","y":-1,"d":5},{"g":"H1","y":-2.5,"d":0},{"g":"H1","y":-2.5,"d":5},
{"g":"H2","y":6.5,"d":-2},{"g":"H2","y":5,"d":-6},{"g":"H2","y":5,"d":4},
{"g":"H2","y":3.5,"d":-8},{"g":"H2","y":3.5,"d":2},{"g":"H2","y":3.5,"d":10},
{"g":"H2","y":2,"d":-10},{"g":"H2","y":2,"d":0},{"g":"H2","y":2,"d":8},
{"g":"H2","y":0,"d":-10},{"g":"H2","y":0,"d":-2},{"g":"H2","y":0,"d":6},
{"g":"H2","y":-2,"d":-8},{"g":"H2","y":-2,"d":2},{"g":"H2","y":-2,"d":10},
{"g":"H2","y":-4,"d":-10},{"g":"H2","y":-4,"d":-2},{"g":"H2","y":-4,"d":6},
{"g":"H2","y":-6,"d":-8},{"g":"H2","y":-6,"d":2},{"g":"H2","y":-6,"d":10},
{"g":"H2","y":-8,"d":-10},{"g":"H2","y":-8,"d":0},{"g":"H2","y":-8,"d":8},
{"g":"H2","y":-10,"d":-8},{"g":"H2","y":-10,"d":2},
{"g":"H2","y":-12,"d":-10},{"g":"H2","y":-12,"d":0},{"g":"H2","y":-12,"d":10},
{"g":"H2","y":-14,"d":-13},{"g":"H2","y":-14,"d":-4},{"g":"H2","y":-14,"d":6},{"g":"H2","y":-14,"d":13},
{"g":"H2","y":-16,"d":-19},{"g":"H2","y":-16,"d":-9},{"g":"H2","y":-16,"d":1},{"g":"H2","y":-16,"d":11},{"g":"H2","y":-16,"d":19},
{"g":"H2","y":-17.5,"d":-24},{"g":"H2","y":-17.5,"d":-14},{"g":"H2","y":-17.5,"d":-4},{"g":"H2","y":-17.5,"d":6},{"g":"H2","y":-17.5,"d":16},{"g":"H2","y":-17.5,"d":24},
{"g":"H2","y":-19,"d":-28},{"g":"H2","y":-19,"d":-18},{"g":"H2","y":-19,"d":-8},{"g":"H2","y":-19,"d":2},{"g":"H2","y":-19,"d":12},{"g":"H2","y":-19,"d":22},{"g":"H2","y":-19,"d":30},
{"g":"H2","y":-20.5,"d":-30},{"g":"H2","y":-20.5,"d":-20},{"g":"H2","y":-20.5,"d":-10},{"g":"H2","y":-20.5,"d":0},{"g":"H2","y":-20.5,"d":10},{"g":"H2","y":-20.5,"d":20},{"g":"H2","y":-20.5,"d":30},
{"g":"H2","y":-22,"d":-30},{"g":"H2","y":-22,"d":-20},{"g":"H2","y":-22,"d":-10},{"g":"H2","y":-22,"d":0},{"g":"H2","y":-22,"d":10},{"g":"H2","y":-22,"d":20},{"g":"H2","y":-22,"d":30},
{"g":"H2","y":-23.5,"d":-26},{"g":"H2","y":-23.5,"d":-16},{"g":"H2","y":-23.5,"d":-6},{"g":"H2","y":-23.5,"d":4},{"g":"H2","y":-23.5,"d":14},{"g":"H2","y":-23.5,"d":24},
{"g":"H2","y":-25,"d":-22},{"g":"H2","y":-25,"d":-12},{"g":"H2","y":-25,"d":-2},{"g":"H2","y":-25,"d":8},{"g":"H2","y":-25,"d":18},
{"g":"H2","y":-27,"d":-16},{"g":"H2","y":-27,"d":-6},{"g":"H2","y":-27,"d":4},{"g":"H2","y":-27,"d":14},
{"g":"H2","y":-29,"d":-10},{"g":"H2","y":-29,"d":0},{"g":"H2","y":-29,"d":8},{"g":"H2","y":-31,"d":-6},{"g":"H2","y":-31,"d":4},{"g":"H2","y":-34,"d":0},{"g":"H2","y":-37,"d":0}
]
},
"columns":2,
"bounds":"flush",
"spacing":{"row":114,"column":150},
"resolve":{"legend":{"color":"independent"}},
"concat":[
{"title":{"text":"Rise Time","offset":26},"width":450,"height":283,
"encoding":{"y":{"field":"y","type":"quantitative","scale":{"domain":[0,50],"nice":false,"zero":false},"axis":{"title":"Rise Time [min]","values":[0,10,20,30,40,50],"labelExpr":"''+datum.value"}}},
"layer":[
{"data":{"name":"vio"},"transform":[{"filter":"datum.p=='RT'"},{"calculate":"indexof(['TX','TL','H1','H2'],datum.g)*104+69","as":"c"},{"calculate":"datum.c-datum.w","as":"lo"},{"calculate":"datum.c+datum.w","as":"hi"}],
"mark":{"type":"area","orient":"horizontal","interpolate":"monotone","strokeWidth":1.5},
"encoding":{
"x":{"field":"lo","type":"quantitative","scale":{"domain":[0,450],"nice":false,"zero":false},"axis":{"title":null,"values":[69,173,277,381],"labelExpr":"datum.value==69?'TX Circuit':datum.value==173?'TL Circuit':datum.value==277?'HY-1 Circuit':'HY-2 Circuit'"}},
"x2":{"field":"hi"},"detail":{"field":"g"},
"fill":{"field":"g","type":"nominal","scale":{"domain":["TX","TL","H1","H2"],"range":["#c6e0fb","#d3efcb","#fde4bd","#f8c3e0"]},"legend":null},
"stroke":{"field":"g","type":"nominal","scale":{"domain":["TX","TL","H1","H2"],"range":["#4f9ff0","#4f9e3e","#f0a240","#e0479a"]},"legend":null}}},
{"data":{"name":"pRT"},"transform":[{"calculate":"indexof(['TX','TL','H1','H2'],datum.g)*104+69+datum.d","as":"px"}],
"mark":{"type":"circle","size":22,"opacity":0.45},
"encoding":{"x":{"field":"px","type":"quantitative","scale":{"domain":[0,450],"nice":false,"zero":false},"axis":{"title":null}},
"color":{"field":"g","type":"nominal","scale":{"domain":["TX","TL","H1","H2"],"range":["#4a9ef5","#3d8b2e","#f4a540","#e8559f"]},
"legend":{"title":"Number of Passed Simulations","orient":"none","legendX":161,"legendY":28,"symbolType":"square","symbolSize":160,"symbolStrokeColor":"black","symbolStrokeWidth":1.5,"symbolOpacity":1,"titleFont":"Liberation Serif","titleFontSize":16,"titleFontWeight":"bold","titleColor":"black","titleAnchor":"middle","titlePadding":15,"titleLimit":400,"labelLimit":400,"labelFont":"Liberation Serif","labelFontSize":15.5,"labelColor":"black","labelOffset":12,"rowPadding":10,"padding":8,"strokeColor":"black","cornerRadius":12,"fillColor":"white",
"labelExpr":"datum.label=='TX'?'TX Circuit : 368/10,000':datum.label=='TL'?'TL Circuit :  87/10,000':datum.label=='H1'?'HY-1 Circuit :  67/10,000':'HY-2 Circuit :  259/10,000'"}}}},
{"data":{"name":"ann"},"transform":[{"filter":"datum.p=='RT'"}],"mark":{"type":"text","align":"left","baseline":"middle","fontSize":14.5,"font":"Liberation Serif","color":"black"},
"encoding":{"x":{"field":"a","type":"quantitative","scale":{"domain":[0,450],"nice":false,"zero":false},"axis":{"title":null}},"text":{"field":"t"}}}
]},
{"title":{"text":"Pulse Width","offset":26},"width":450,"height":283,
"encoding":{"y":{"field":"y","type":"quantitative","scale":{"domain":[0,600],"nice":false,"zero":false},"axis":{"title":"Pulse Width [min]","values":[0,100,200,300,400,500,600],"labelExpr":"''+datum.value"}}},
"layer":[
{"data":{"name":"vio"},"transform":[{"filter":"datum.p=='PW'"},{"calculate":"indexof(['TX','TL','H1','H2'],datum.g)*104+69","as":"c"},{"calculate":"datum.c-datum.w","as":"lo"},{"calculate":"datum.c+datum.w","as":"hi"}],
"mark":{"type":"area","orient":"horizontal","interpolate":"monotone","strokeWidth":1.5},
"encoding":{
"x":{"field":"lo","type":"quantitative","scale":{"domain":[0,450],"nice":false,"zero":false},"axis":{"title":null,"values":[69,173,277,381],"labelExpr":"datum.value==69?'TX Circuit':datum.value==173?'TL Circuit':datum.value==277?'HY-1 Circuit':'HY-2 Circuit'"}},
"x2":{"field":"hi"},"detail":{"field":"g"},
"fill":{"field":"g","type":"nominal","scale":{"domain":["TX","TL","H1","H2"],"range":["#c6e0fb","#d3efcb","#fde4bd","#f8c3e0"]},"legend":null},
"stroke":{"field":"g","type":"nominal","scale":{"domain":["TX","TL","H1","H2"],"range":["#4f9ff0","#4f9e3e","#f0a240","#e0479a"]},"legend":null}}},
{"data":{"name":"pPW"},"transform":[{"calculate":"indexof(['TX','TL','H1','H2'],datum.g)*104+69+datum.d","as":"px"}],
"mark":{"type":"circle","size":22,"opacity":0.45},
"encoding":{"x":{"field":"px","type":"quantitative","scale":{"domain":[0,450],"nice":false,"zero":false},"axis":{"title":null}},
"color":{"field":"g","type":"nominal","scale":{"domain":["TX","TL","H1","H2"],"range":["#4a9ef5","#3d8b2e","#f4a540","#e8559f"]},"legend":null}}},
{"data":{"name":"qs"},"transform":[{"filter":"datum.p=='PW' && datum.k=='q'"},{"calculate":"indexof(['TX','TL','H1','H2'],datum.g)*104+69","as":"c"},{"calculate":"datum.c-datum.w","as":"lo"},{"calculate":"datum.c+datum.w","as":"hi"}],
"mark":{"type":"rule","strokeDash":[2,3],"strokeWidth":2},
"encoding":{"x":{"field":"lo","type":"quantitative","scale":{"domain":[0,450],"nice":false,"zero":false},"axis":{"title":null}},"x2":{"field":"hi"},
"stroke":{"field":"g","type":"nominal","scale":{"domain":["TX","TL","H1","H2"],"range":["#4f9ff0","#4f9e3e","#f0a240","#e0479a"]},"legend":null}}},
{"data":{"name":"qs"},"transform":[{"filter":"datum.p=='PW' && datum.k=='m'"},{"calculate":"indexof(['TX','TL','H1','H2'],datum.g)*104+69","as":"c"},{"calculate":"datum.c-datum.w","as":"lo"},{"calculate":"datum.c+datum.w","as":"hi"}],
"mark":{"type":"rule","strokeDash":[5,3],"strokeWidth":1.5,"color":"black"},
"encoding":{"x":{"field":"lo","type":"quantitative","scale":{"domain":[0,450],"nice":false,"zero":false},"axis":{"title":null}},"x2":{"field":"hi"}}},
{"data":{"name":"ann"},"transform":[{"filter":"datum.p=='PW'"}],"mark":{"type":"text","align":"left","baseline":"middle","fontSize":14.5,"font":"Liberation Serif","color":"black"},
"encoding":{"x":{"field":"a","type":"quantitative","scale":{"domain":[0,450],"nice":false,"zero":false},"axis":{"title":null}},"text":{"field":"t"}}}
]},
{"title":{"text":"Pulse Height","offset":37},"width":450,"height":283,
"encoding":{"y":{"field":"y","type":"quantitative","scale":{"domain":[-5,16],"nice":false,"zero":false},"axis":{"title":"log(Pulse Height/nM)","values":[-5,0,5,10,15],"labelExpr":"''+datum.value"}}},
"layer":[
{"data":{"name":"vio"},"transform":[{"filter":"datum.p=='PH'"},{"calculate":"indexof(['TX','TL','H1','H2'],datum.g)*104+69","as":"c"},{"calculate":"datum.c-datum.w","as":"lo"},{"calculate":"datum.c+datum.w","as":"hi"}],
"mark":{"type":"area","orient":"horizontal","interpolate":"monotone","strokeWidth":1.5},
"encoding":{
"x":{"field":"lo","type":"quantitative","scale":{"domain":[0,450],"nice":false,"zero":false},"axis":{"title":null,"values":[69,173,277,381],"labelExpr":"datum.value==69?'TX Circuit':datum.value==173?'TL Circuit':datum.value==277?'HY-1 Circuit':'HY-2 Circuit'"}},
"x2":{"field":"hi"},"detail":{"field":"g"},
"fill":{"field":"g","type":"nominal","scale":{"domain":["TX","TL","H1","H2"],"range":["#c6e0fb","#d3efcb","#fde4bd","#f8c3e0"]},"legend":null},
"stroke":{"field":"g","type":"nominal","scale":{"domain":["TX","TL","H1","H2"],"range":["#4f9ff0","#4f9e3e","#f0a240","#e0479a"]},"legend":null}}},
{"data":{"name":"pPH"},"transform":[{"calculate":"indexof(['TX','TL','H1','H2'],datum.g)*104+69+datum.d","as":"px"}],
"mark":{"type":"circle","size":22,"opacity":0.45},
"encoding":{"x":{"field":"px","type":"quantitative","scale":{"domain":[0,450],"nice":false,"zero":false},"axis":{"title":null}},
"color":{"field":"g","type":"nominal","scale":{"domain":["TX","TL","H1","H2"],"range":["#4a9ef5","#3d8b2e","#f4a540","#e8559f"]},"legend":null}}},
{"data":{"name":"qs"},"transform":[{"filter":"datum.p=='PH' && datum.k=='q'"},{"calculate":"indexof(['TX','TL','H1','H2'],datum.g)*104+69","as":"c"},{"calculate":"datum.c-datum.w","as":"lo"},{"calculate":"datum.c+datum.w","as":"hi"}],
"mark":{"type":"rule","strokeDash":[2,3],"strokeWidth":2},
"encoding":{"x":{"field":"lo","type":"quantitative","scale":{"domain":[0,450],"nice":false,"zero":false},"axis":{"title":null}},"x2":{"field":"hi"},
"stroke":{"field":"g","type":"nominal","scale":{"domain":["TX","TL","H1","H2"],"range":["#4f9ff0","#4f9e3e","#f0a240","#e0479a"]},"legend":null}}},
{"data":{"name":"qs"},"transform":[{"filter":"datum.p=='PH' && datum.k=='m'"},{"calculate":"indexof(['TX','TL','H1','H2'],datum.g)*104+69","as":"c"},{"calculate":"datum.c-datum.w","as":"lo"},{"calculate":"datum.c+datum.w","as":"hi"}],
"mark":{"type":"rule","strokeDash":[5,3],"strokeWidth":1.5,"color":"black"},
"encoding":{"x":{"field":"lo","type":"quantitative","scale":{"domain":[0,450],"nice":false,"zero":false},"axis":{"title":null}},"x2":{"field":"hi"}}},
{"data":{"name":"ann"},"transform":[{"filter":"datum.p=='PH'"}],"mark":{"type":"text","align":"left","baseline":"middle","fontSize":14.5,"font":"Liberation Serif","color":"black"},
"encoding":{"x":{"field":"a","type":"quantitative","scale":{"domain":[0,450],"nice":false,"zero":false},"axis":{"title":null}},"text":{"field":"t"}}}
]},
{"title":{"text":"Final Value","offset":30},"width":450,"height":283,
"encoding":{"y":{"field":"y","type":"quantitative","scale":{"domain":[-50,10],"nice":false,"zero":false},"axis":{"title":"log(Final Value/nM)","values":[-50,-40,-30,-20,-10,0,10],"labelExpr":"''+datum.value"}}},
"layer":[
{"data":{"name":"vio"},"transform":[{"filter":"datum.p=='FV'"},{"calculate":"indexof(['TX','TL','H1','H2'],datum.g)*104+69","as":"c"},{"calculate":"datum.c-datum.w","as":"lo"},{"calculate":"datum.c+datum.w","as":"hi"}],
"mark":{"type":"area","orient":"horizontal","interpolate":"monotone","strokeWidth":1.5},
"encoding":{
"x":{"field":"lo","type":"quantitative","scale":{"domain":[0,450],"nice":false,"zero":false},"axis":{"title":null,"values":[69,173,277,381],"labelExpr":"datum.value==69?'TX Circuit':datum.value==173?'TL Circuit':datum.value==277?'HY-1 Circuit':'HY-2 Circuit'"}},
"x2":{"field":"hi"},"detail":{"field":"g"},
"fill":{"field":"g","type":"nominal","scale":{"domain":["TX","TL","H1","H2"],"range":["#c6e0fb","#d3efcb","#fde4bd","#f8c3e0"]},"legend":null},
"stroke":{"field":"g","type":"nominal","scale":{"domain":["TX","TL","H1","H2"],"range":["#4f9ff0","#4f9e3e","#f0a240","#e0479a"]},"legend":null}}},
{"data":{"name":"pFV"},"transform":[{"calculate":"indexof(['TX','TL','H1','H2'],datum.g)*104+69+datum.d","as":"px"}],
"mark":{"type":"circle","size":22,"opacity":0.45},
"encoding":{"x":{"field":"px","type":"quantitative","scale":{"domain":[0,450],"nice":false,"zero":false},"axis":{"title":null}},
"color":{"field":"g","type":"nominal","scale":{"domain":["TX","TL","H1","H2"],"range":["#4a9ef5","#3d8b2e","#f4a540","#e8559f"]},"legend":null}}},
{"data":{"name":"qs"},"transform":[{"filter":"datum.p=='FV' && datum.k=='q'"},{"calculate":"indexof(['TX','TL','H1','H2'],datum.g)*104+69","as":"c"},{"calculate":"datum.c-datum.w","as":"lo"},{"calculate":"datum.c+datum.w","as":"hi"}],
"mark":{"type":"rule","strokeDash":[2,3],"strokeWidth":2},
"encoding":{"x":{"field":"lo","type":"quantitative","scale":{"domain":[0,450],"nice":false,"zero":false},"axis":{"title":null}},"x2":{"field":"hi"},
"stroke":{"field":"g","type":"nominal","scale":{"domain":["TX","TL","H1","H2"],"range":["#4f9ff0","#4f9e3e","#f0a240","#e0479a"]},"legend":null}}},
{"data":{"name":"qs"},"transform":[{"filter":"datum.p=='FV' && datum.k=='m'"},{"calculate":"indexof(['TX','TL','H1','H2'],datum.g)*104+69","as":"c"},{"calculate":"datum.c-datum.w","as":"lo"},{"calculate":"datum.c+datum.w","as":"hi"}],
"mark":{"type":"rule","strokeDash":[5,3],"strokeWidth":1.5,"color":"black"},
"encoding":{"x":{"field":"lo","type":"quantitative","scale":{"domain":[0,450],"nice":false,"zero":false},"axis":{"title":null}},"x2":{"field":"hi"}}},
{"data":{"name":"ann"},"transform":[{"filter":"datum.p=='FV'"}],"mark":{"type":"text","align":"left","baseline":"middle","fontSize":14.5,"font":"Liberation Serif","color":"black"},
"encoding":{"x":{"field":"a","type":"quantitative","scale":{"domain":[0,450],"nice":false,"zero":false},"axis":{"title":null}},"text":{"field":"t"}}}
]}
]
}
